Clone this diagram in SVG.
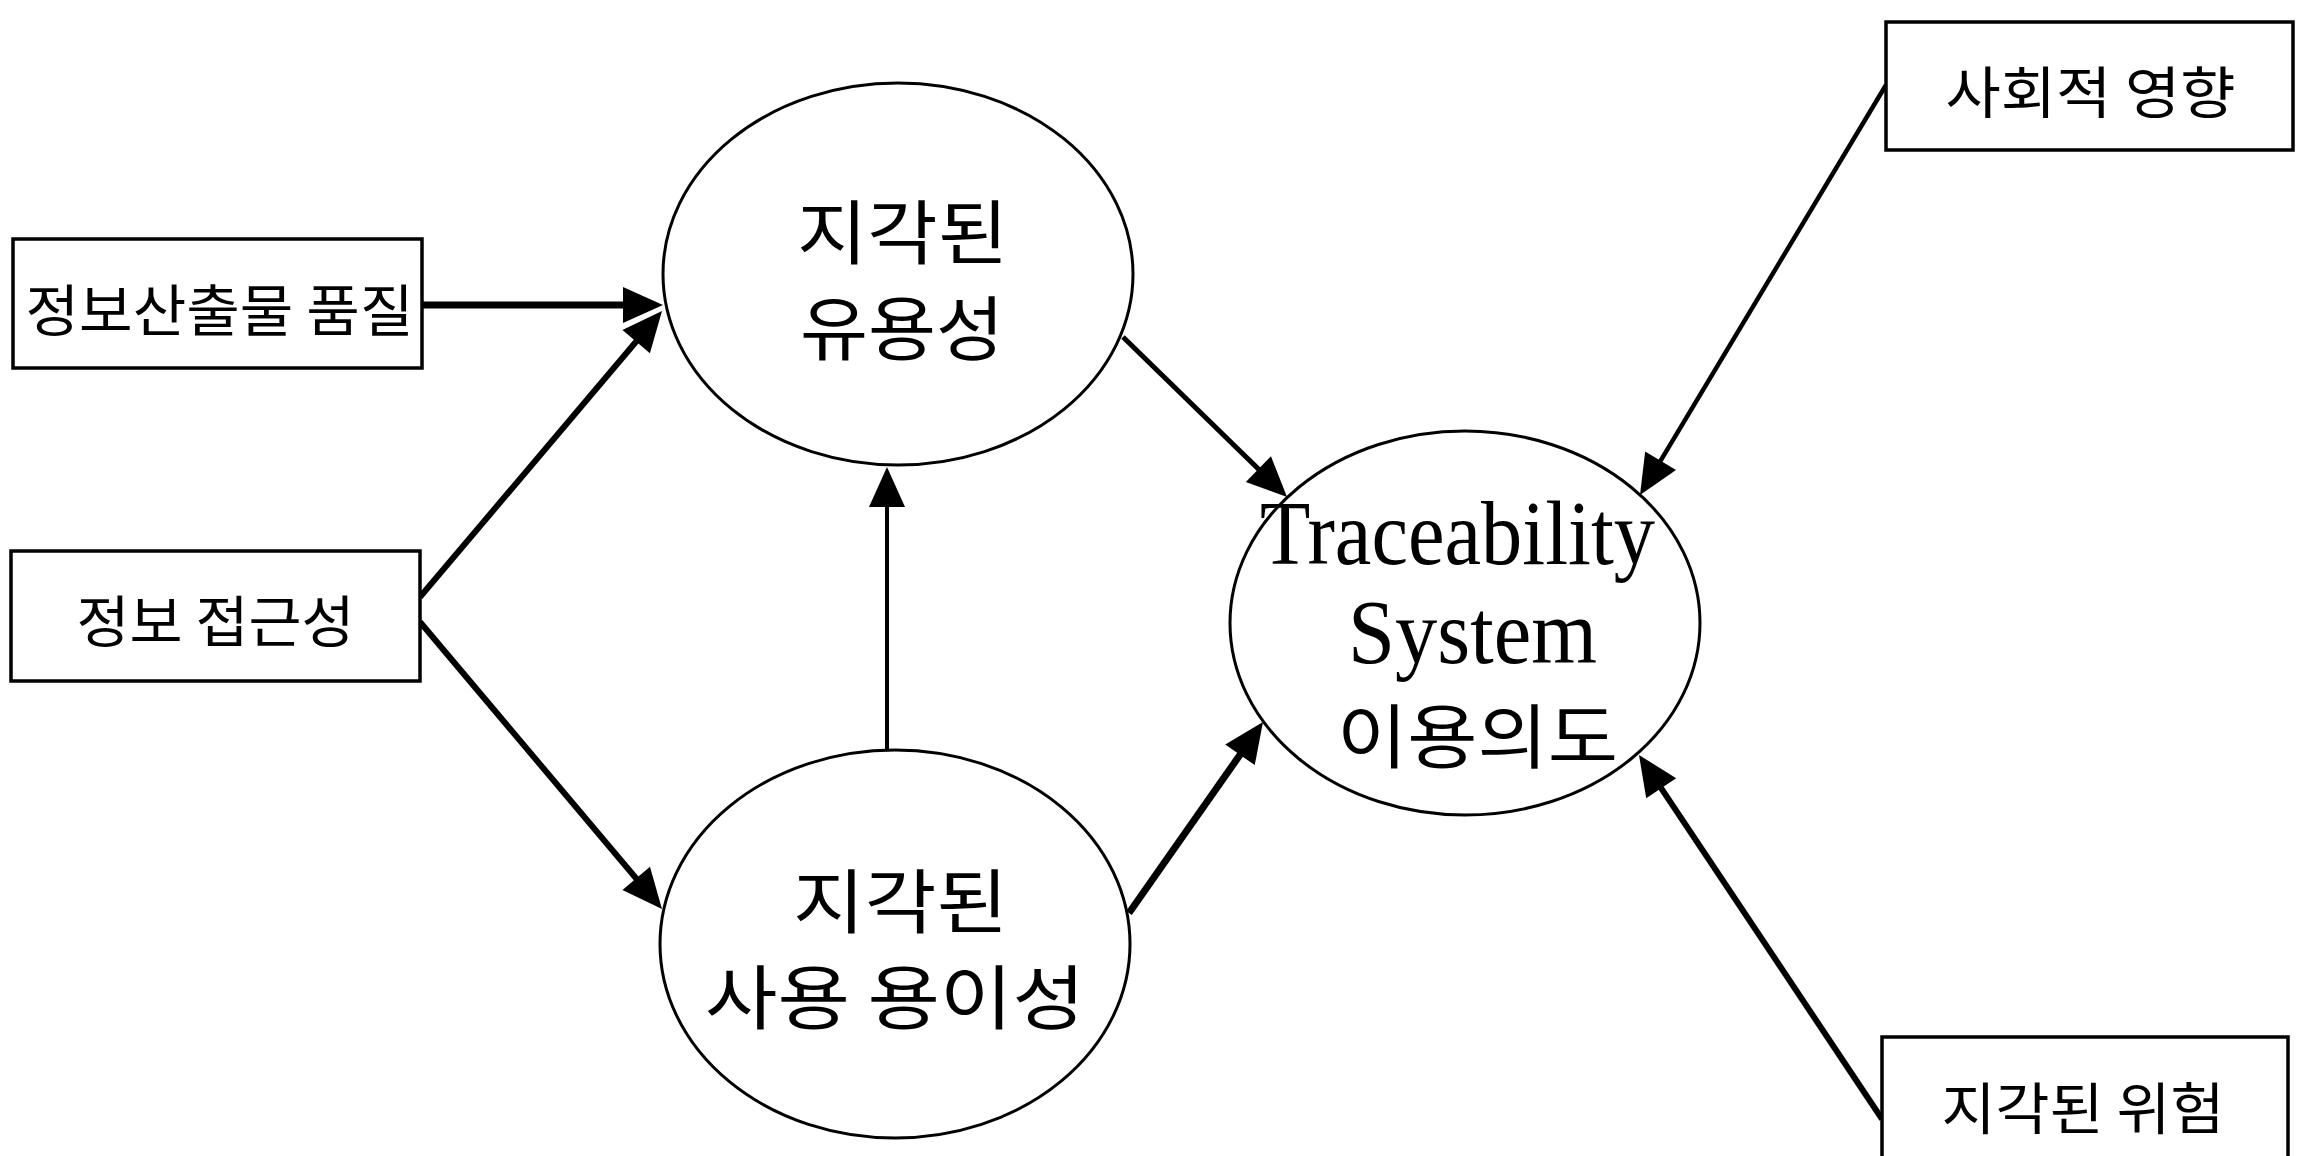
<svg xmlns="http://www.w3.org/2000/svg" width="2298" height="1156" viewBox="0 0 2298 1156">
<defs>
<marker id="ah" markerUnits="userSpaceOnUse" markerWidth="40" markerHeight="36" refX="20" refY="18" orient="auto" overflow="visible">
<path d="M0,0 L40,18 L0,36 Z" fill="#000"/>
</marker>
<style>
.box{fill:#fff;stroke:#000;stroke-width:3.5}
.ell{fill:#fff;stroke:#000;stroke-width:3}
.kr{font-family:"Noto Sans CJK KR","Liberation Sans",sans-serif;fill:#000;text-anchor:middle}
.en{font-family:"Liberation Serif","Noto Sans CJK KR",serif;fill:#000;text-anchor:middle}
.edge{stroke:#000;fill:none;marker-end:url(#ah)}
</style>
</defs>
<rect width="2298" height="1156" fill="#fff"/>
<g id="connectors">
<line class="edge" x1="422" y1="305" x2="643" y2="305" stroke-width="7"/>
<line class="edge" x1="420" y1="597" x2="649.1" y2="326.3" stroke-width="6"/>
<line class="edge" x1="420" y1="622" x2="649.1" y2="893.7" stroke-width="6"/>
<line class="edge" x1="887" y1="750" x2="887" y2="487" stroke-width="4"/>
<line class="edge" x1="1123" y1="337" x2="1272.7" y2="483" stroke-width="5"/>
<line class="edge" x1="1129" y1="913" x2="1251.5" y2="738.4" stroke-width="7"/>
<line class="edge" x1="1886" y1="85" x2="1650.3" y2="477.8" stroke-width="4.5"/>
<line class="edge" x1="1882" y1="1119" x2="1650.1" y2="771.6" stroke-width="6"/>
</g>
<g id="n_quality">
<rect class="box" x="13" y="239" width="409" height="129"/>
<text class="kr" x="219.5" y="331" font-size="56" textLength="388" lengthAdjust="spacingAndGlyphs">정보산출물 품질</text>
</g>
<g id="n_access">
<rect class="box" x="11" y="551" width="409" height="130"/>
<text class="kr" x="215.5" y="642" font-size="56" textLength="278" lengthAdjust="spacingAndGlyphs">정보 접근성</text>
</g>
<g id="n_social">
<rect class="box" x="1886" y="22" width="407" height="128"/>
<text class="kr" x="2090.5" y="113" font-size="56" textLength="290" lengthAdjust="spacingAndGlyphs">사회적 영향</text>
</g>
<g id="n_risk">
<rect class="box" x="1882" y="1037" width="406" height="140"/>
<text class="kr" x="2083" y="1129" font-size="56" textLength="283" lengthAdjust="spacingAndGlyphs">지각된 위험</text>
</g>
<g id="n_usefulness">
<ellipse class="ell" cx="898" cy="274" rx="235" ry="191"/>
<text class="kr" x="902.5" y="259" font-size="70" textLength="211" lengthAdjust="spacingAndGlyphs">지각된</text>
<text class="kr" x="902" y="355" font-size="70" textLength="204" lengthAdjust="spacingAndGlyphs">유용성</text>
</g>
<g id="n_ease">
<ellipse class="ell" cx="895" cy="944" rx="235" ry="194"/>
<text class="kr" x="900.5" y="928" font-size="70" textLength="215" lengthAdjust="spacingAndGlyphs">지각된</text>
<text class="kr" x="895" y="1024" font-size="70" textLength="380" lengthAdjust="spacingAndGlyphs">사용 용이성</text>
</g>
<g id="n_intention">
<ellipse class="ell" cx="1465" cy="623" rx="235" ry="192"/>
<text class="en" x="1457.5" y="564" font-size="92" textLength="395" lengthAdjust="spacingAndGlyphs">Traceability</text>
<text class="en" x="1472.5" y="663" font-size="92" textLength="249" lengthAdjust="spacingAndGlyphs">System</text>
<text class="kr" x="1477.5" y="763" font-size="70" textLength="281" lengthAdjust="spacingAndGlyphs">이용의도</text>
</g>
</svg>
